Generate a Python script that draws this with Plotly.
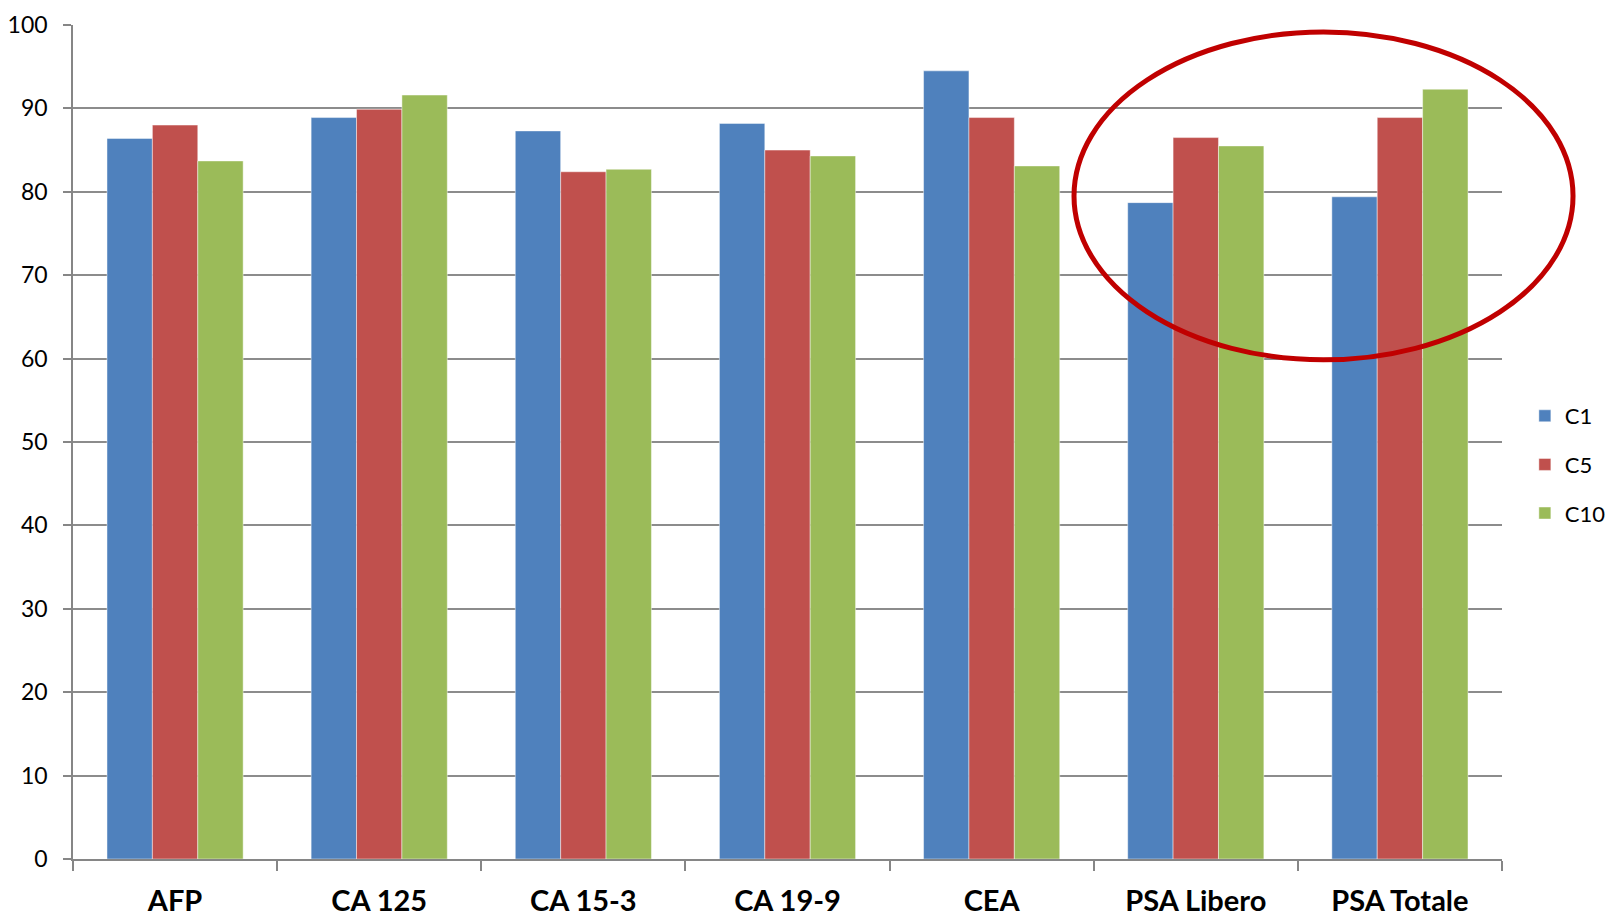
import plotly.graph_objects as go

# Tumour markers and the three series shown for each one
categories = ["AFP", "CA 125", "CA 15-3", "CA 19-9", "CEA", "PSA Libero", "PSA Totale"]
c1_values = [86.4, 88.9, 87.3, 88.2, 94.5, 78.7, 79.4]
c5_values = [88.0, 89.9, 82.4, 85.0, 88.9, 86.5, 88.9]
c10_values = [83.7, 91.6, 82.7, 84.3, 83.1, 85.5, 92.3]
y_ticks = [0, 10, 20, 30, 40, 50, 60, 70, 80, 90, 100]

series = [
    ("C1", c1_values, "#4F81BD"),
    ("C5", c5_values, "#C0504D"),
    ("C10", c10_values, "#9BBB59"),
]

fig = go.Figure()
for name, vals, color in series:
    fig.add_trace(go.Bar(
        x=categories,
        y=vals,
        name=name,
        legendgroup=name,
        marker=dict(color=color, line=dict(color="rgba(255,255,255,0.45)", width=1)),
    ))

fig.update_layout(
    width=1614,
    height=923,
    margin=dict(l=73, r=112, t=25, b=64, autoexpand=False),
    paper_bgcolor="white",
    plot_bgcolor="white",
    barmode="group",
    bargap=0.333,
    bargroupgap=0,
    font=dict(family="Lato, 'Open Sans', sans-serif", color="black"),
    showlegend=True,
    legend=dict(
        x=1.016,
        xanchor="left",
        y=0.473,
        yanchor="middle",
        xref="paper",
        font=dict(size=22, color="black"),
        tracegroupgap=17,
        itemwidth=30,
        bgcolor="rgba(0,0,0,0)",
    ),
    xaxis=dict(
        type="category",
        tickson="boundaries",
        ticks="outside",
        ticklen=10,
        tickwidth=1.5,
        tickcolor="#868686",
        showline=True,
        linecolor="#868686",
        linewidth=1.5,
        showgrid=False,
        automargin=False,
        tickfont=dict(size=29, color="black", family="Lato, 'Open Sans', sans-serif", weight="bold"),
        ticklabelstandoff=15,
    ),
    yaxis=dict(
        range=[0, 100],
        tickvals=y_ticks,
        ticks="outside",
        ticklen=8,
        tickwidth=1.5,
        tickcolor="#868686",
        showline=True,
        linecolor="#868686",
        linewidth=1.5,
        showgrid=True,
        gridcolor="#8C8C8C",
        gridwidth=1.5,
        zeroline=False,
        automargin=False,
        tickfont=dict(size=23, color="black"),
        ticklabelstandoff=11,
    ),
    shapes=[
        dict(
            type="circle",
            xref="paper",
            yref="paper",
            x0=0.7005,
            x1=1.0497,
            y0=0.5985,
            y1=0.9916,
            line=dict(color="#C00000", width=5),
            layer="above",
        )
    ],
)

fig.write_html("out.html")
